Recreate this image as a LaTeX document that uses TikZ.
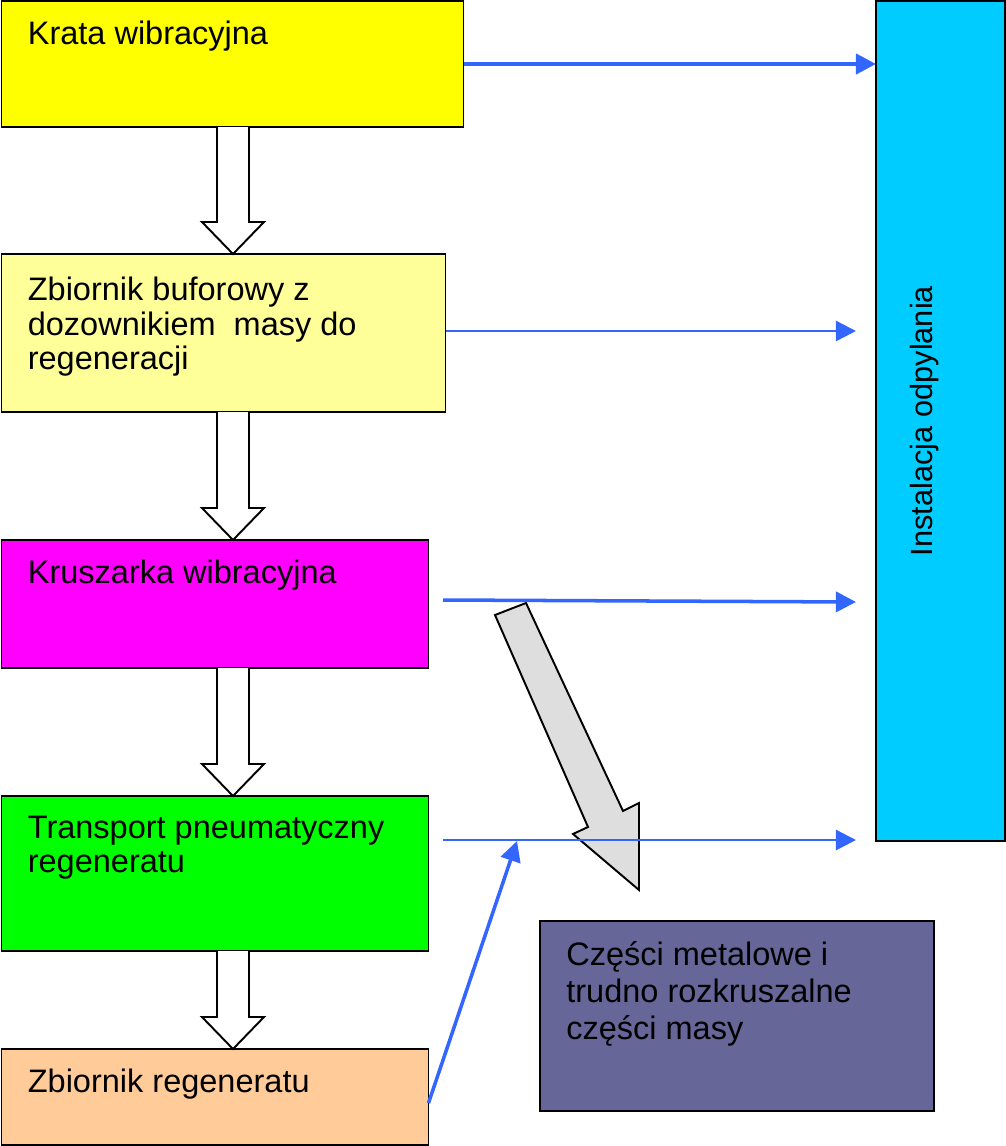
\documentclass[tikz,border=0pt]{standalone}
\usepackage{fontspec}
\setmainfont{Liberation Sans}
\usetikzlibrary{calc,arrows.meta}

\definecolor{krata}{HTML}{FFFF00}
\definecolor{bufor}{HTML}{FFFF99}
\definecolor{kruszarka}{HTML}{FF00FF}
\definecolor{transport}{HTML}{00FF00}
\definecolor{zbiornik}{HTML}{FFCC99}
\definecolor{czesci}{HTML}{666699}
\definecolor{odpyl}{HTML}{00CCFF}
\definecolor{strzalka}{HTML}{3366FF}

\tikzset{
    box/.style={draw=black, line width=1.1pt, inner sep=0pt, outer sep=0pt, anchor=north west},
    size/.style 2 args={minimum width=#1*0.02cm, minimum height=#2*0.02cm},
    txt/.style={anchor=north west, inner sep=0pt, align=left},
    hollow/.style={draw=black, line width=1.1pt, fill=white, line join=miter},
    flow/.style={draw=strzalka, line width=#1, -{Triangle[length=11.5pt,width=11.5pt]}},
    flow/.default=1.4pt,
    every node/.style={font=\fontsize{18.5}{19.5}\selectfont}
}

% wide white arrow from box #1 down to box #2
\newcommand\hollowarrow[2]{%
    \path (#1.south -| mid) coordinate (t) (#2.north -| mid) coordinate (h);
    \draw[hollow] ($(t)+(-16,0)$) -- ($(h)+(-16,-32)$) -- ($(h)+(-31,-32)$) -- (h)
        -- ($(h)+(31,-32)$) -- ($(h)+(16,-32)$) -- ($(t)+(16,0)$);
}

\begin{document}
\begin{tikzpicture}[x=0.02cm,y=-0.02cm]

    \useasboundingbox (0,0) rectangle (1006,1146);

    \coordinate (mid) at (233,0);

    % main line
    \node[box, size={462}{126}, fill=krata]     (krata)     at (1.5,1)    {};
    \node[box, size={444}{158}, fill=bufor]     (bufor)     at (1.5,254)  {};
    \node[box, size={427}{128}, fill=kruszarka] (kruszarka) at (1.5,540)  {};
    \node[box, size={427}{155}, fill=transport] (transport) at (1.5,796)  {};
    \node[box, size={427}{96},  fill=zbiornik]  (zbiornik)  at (1.5,1049) {};

    % right side
    \node[box, size={394}{190}, fill=czesci] (czesci) at (540,921) {};
    \node[box, size={129}{840}, fill=odpyl]  (odpyl)  at (876,1)   {};

    \node[txt] (krata-t)     at ($(krata.north west)+(26,20)$)     {Krata wibracyjna};
    \node[txt] (bufor-t)     at ($(bufor.north west)+(26,23)$)     {Zbiornik buforowy z\\dozownikiem\ \ masy do\\regeneracji};
    \node[txt] (kruszarka-t) at ($(kruszarka.north west)+(26,20)$) {Kruszarka wibracyjna};
    \node[txt] (transport-t) at ($(transport.north west)+(26,20)$) {Transport pneumatyczny\\regeneratu};
    \node[txt] (zbiornik-t)  at ($(zbiornik.north west)+(26,20)$)  {Zbiornik regeneratu};
    \node[txt, font=\fontsize{18.5}{21}\selectfont] (czesci-t) at ($(czesci.north west)+(26,20)$) {Części metalowe i\\trudno rozkruszalne\\części masy};
    \node[rotate=90, inner sep=0pt, font=\fontsize{17.5}{19.5}\selectfont] (odpyl-t) at (925,421) {Instalacja odpylania};

    \hollowarrow{krata}{bufor}
    \hollowarrow{bufor}{kruszarka}
    \hollowarrow{kruszarka}{transport}
    \hollowarrow{transport}{zbiornik}

    % grey arrow: metal parts
    \draw[line width=1.1pt, fill=black!13, line join=miter]
        (495,615) -- (526,603) -- (623,811) -- (639,803) -- (639,890) -- (573,834) -- (588,827) -- cycle;

    % dust lines
    \coordinate (b2) at (856,331);
    \coordinate (k1) at (443,600);
    \coordinate (k2) at (856,602);
    \coordinate (t1) at (443,840);
    \coordinate (t2) at (856,840);
    \coordinate (z2) at (517,841);

    \draw[flow=2.4pt] (krata.east) -- (krata.east -| odpyl.west);
    \draw[flow] (bufor.east |- b2) -- (b2);
    \draw[flow=2pt] (k1) -- (k2);
    \draw[flow] (t1) -- (t2);
    \draw[flow=2pt] ($(zbiornik.east)+(0,6)$) -- (z2);

\end{tikzpicture}
\end{document}
